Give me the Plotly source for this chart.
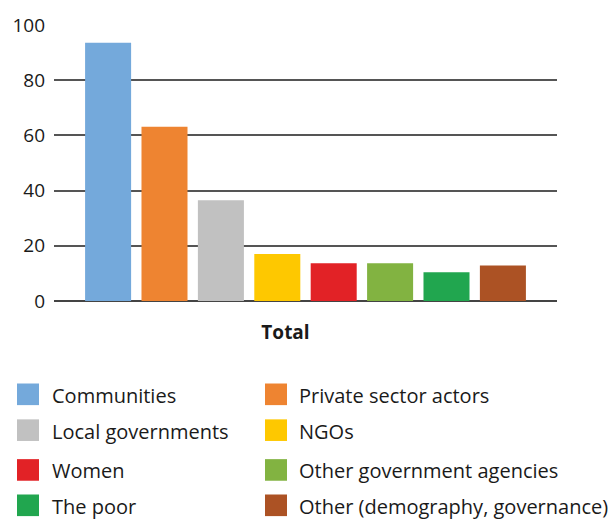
import plotly.graph_objects as go

# Stakeholder groups and their shares (Total)
groups = [
    "Communities",
    "Private sector actors",
    "Local governments",
    "NGOs",
    "Women",
    "Other government agencies",
    "The poor",
    "Other (demography, governance)",
]
values = [93.6, 63.1, 36.5, 17.0, 13.7, 13.7, 10.4, 12.9]
colors = ["#74a9db", "#ee8431", "#c1c1c1", "#fec800",
          "#e22226", "#82b341", "#21a64f", "#ac5224"]
category = ["Total"]
y_ticks = [0, 20, 40, 60, 80, 100]

W, H = 613, 520
ML, MR, MT, MB = 54, 56, 20, 219
PW, PH = W - ML - MR, H - MT - MB

FONT = "Open Sans"

fig = go.Figure()
for name, val, col in zip(groups, values, colors):
    fig.add_trace(go.Bar(x=category, y=[val], name=name,
                         marker=dict(color=col, line=dict(width=0)),
                         showlegend=False))


def px_x(px):
    return (px - ML) / PW


def px_y(py):
    return (H - MB - py) / PH


# Two-column legend with square swatches
col_swatch = [17, 265]
col_text = [50, 297]
row_mid = [396, 432.5, 473, 509]
shapes, annotations = [], []
for i, (name, col) in enumerate(zip(groups, colors)):
    r, c = divmod(i, 2)
    cy = row_mid[r]
    shapes.append(dict(type="rect", xref="paper", yref="paper",
                       x0=px_x(col_swatch[c]), x1=px_x(col_swatch[c] + 22),
                       y0=px_y(cy + 11), y1=px_y(cy - 11),
                       fillcolor=col, line=dict(width=0)))
    annotations.append(dict(text=name, xref="paper", yref="paper",
                            x=px_x(col_text[c]), y=px_y(cy + 1),
                            xanchor="left", yanchor="middle", showarrow=False,
                            font=dict(family=FONT, size=20, color="#1a1a1a")))

fig.update_layout(
    width=W, height=H,
    margin=dict(l=ML, r=MR, t=MT, b=MB),
    paper_bgcolor="white", plot_bgcolor="white",
    barmode="group", bargap=0.103, bargroupgap=0.184,
    font=dict(family=FONT, size=19, color="#1a1a1a"),
    shapes=shapes, annotations=annotations,
    xaxis=dict(showgrid=False, showline=False, ticks="",
               tickfont=dict(family=FONT, size=19, color="#1a1a1a", weight="bold"),
               ticklabelshift=-20, ticklabelstandoff=18),
    yaxis=dict(range=[0, 100], tickvals=y_ticks, showgrid=True,
               gridcolor="#555555", gridwidth=1.5,
               zeroline=True, zerolinecolor="#444444", zerolinewidth=1.5,
               showline=False, ticks="", ticklabelstandoff=8,
               tickfont=dict(family=FONT, size=19, color="#1a1a1a")),
)

fig.write_html("out.html")
